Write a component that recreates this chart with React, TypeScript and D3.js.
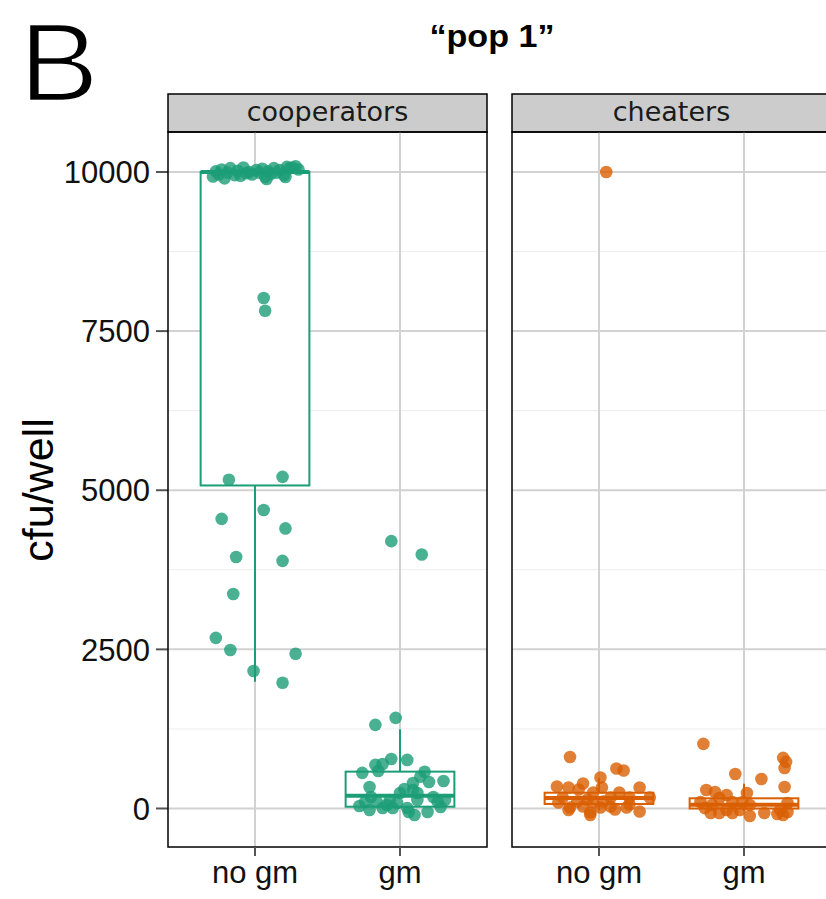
import React, { useEffect, useRef } from 'react'
import * as d3 from 'd3'

// facets and categories
const facets = ['cooperators', 'cheaters']
const categories = ['no gm', 'gm']
const facetColors = ['#1b9e77', '#d95f02']
const yTicks = [0, 2500, 5000, 7500, 10000]
const yMinor = [1250, 3750, 6250, 8750]

// jittered points: [category offset, cfu/well]
const coopNoGm = [
  [-0.29, 9930], [-0.27, 10010], [-0.25, 9960], [-0.23, 10040], [-0.21, 9900], [-0.19, 9990],
  [-0.17, 10060], [-0.14, 9950], [-0.12, 10020], [-0.10, 9940], [-0.08, 10070], [-0.06, 9980],
  [-0.04, 10000], [-0.02, 9960], [0.01, 10030], [0.03, 9990], [0.05, 10050], [0.07, 9920],
  [0.09, 10010], [0.11, 9970], [0.13, 10060], [0.15, 9990], [0.17, 10030], [0.20, 9950],
  [0.22, 10080], [0.24, 10060], [0.26, 10070], [0.28, 10090], [0.30, 10040], [0.08, 9890],
  [0.21, 9920],
  [0.06, 8020], [0.07, 7820], [-0.18, 5165], [0.19, 5210], [0.06, 4690], [-0.23, 4550],
  [0.21, 4400], [-0.13, 3950], [0.19, 3890], [-0.15, 3370], [-0.27, 2680], [-0.17, 2490],
  [0.28, 2430], [-0.01, 2160], [0.19, 1975]
]
const coopGm = [
  [-0.17, 1313], [-0.03, 1423], [-0.06, 4200], [0.15, 3990], [-0.06, 778], [0.05, 763],
  [-0.17, 685], [-0.12, 700], [-0.15, 590], [-0.26, 560], [0.17, 577], [0.14, 500],
  [0.30, 432], [0.20, 417], [0.09, 400], [0.03, 306], [0.00, 244], [-0.21, 338],
  [-0.20, 181], [-0.28, 40], [-0.21, -23], [-0.12, 8], [-0.05, 8], [0.05, 8],
  [0.10, -102], [0.06, -55], [0.19, -55], [0.26, 102], [0.31, 134], [0.23, 181],
  [-0.16, 102], [-0.07, 134], [-0.02, 86], [0.12, 134], [0.28, 24], [-0.24, 102],
  [-0.09, 55], [0.09, 290], [0.12, 244]
]
const cheatNoGm = [
  [0.05, 10000], [-0.20, 810], [0.12, 628], [0.17, 597], [0.01, 487], [-0.29, 346],
  [-0.11, 393], [0.28, 330], [-0.21, 330], [-0.14, 299], [0.14, 252], [0.02, 330],
  [-0.04, 252], [-0.25, 173], [-0.08, 142], [0.08, 173], [0.21, 173], [-0.28, 94],
  [-0.20, 16], [-0.11, 31], [-0.06, -64], [0.01, 16], [0.11, -16], [0.28, -48],
  [0.21, 63], [0.08, 31], [-0.04, 94], [0.35, 173], [0.19, 16], [0.03, 110],
  [-0.15, 110], [-0.06, -102], [-0.21, -24]
]
const cheatGm = [
  [-0.28, 1015], [0.27, 795], [0.29, 733], [0.28, 637], [-0.06, 542], [0.12, 463],
  [0.28, 338], [-0.26, 291], [-0.20, 260], [-0.12, 212], [0.02, 244], [-0.30, 102],
  [-0.17, 165], [-0.08, 102], [-0.22, 55], [-0.01, 102], [0.04, 55], [0.30, 86],
  [-0.23, -71], [-0.17, -71], [-0.08, -71], [0.04, -118], [0.14, -71], [0.23, -86],
  [0.27, -102], [0.30, -55], [-0.03, -24], [-0.12, -24], [-0.27, 8], [0.25, -24]
]
const points = [[coopNoGm, coopGm], [cheatNoGm, cheatGm]]

// box stats: [lower whisker, q1, median, q3, upper whisker]
const boxes = [
  [[1990, 5075, 10000, 10000, 10040], [0, 28, 201, 579, 1245]],
  [[-30, 71, 165, 248, 480], [-40, 0, 60, 160, 390]]
]

const App = () => {
  const ref = useRef(null)

  useEffect(() => {
    const W = 826, H = 899
    const panelW = 319, panelTop = 132, panelBottom = 847
    const stripTop = 94
    const panelX = [168, 512]

    const svg = d3.select(ref.current)
    svg.selectAll('*').remove()
    svg.attr('width', W).attr('height', H)

    const y = d3.scaleLinear().domain([-605, 10628]).range([panelBottom, panelTop])
    const x = d3.scalePoint().domain(categories).range([0, panelW]).padding(0.6)
    const unit = x.step()
    const font = 'Liberation Sans, Arial, Helvetica, sans-serif'

    svg.append('rect').attr('width', W).attr('height', H).attr('fill', 'white')

    // panel letter
    svg.append('text')
      .attr('x', 19).attr('y', 101)
      .attr('font-family', font).attr('font-size', 111)
      .attr('textLength', 80).attr('lengthAdjust', 'spacingAndGlyphs')
      .attr('fill', 'black').attr('stroke', 'white').attr('stroke-width', 2.5)
      .text('B')

    svg.append('text')
      .attr('x', 492).attr('y', 47)
      .attr('text-anchor', 'middle')
      .attr('font-family', font).attr('font-weight', 'bold').attr('font-size', 31)
      .attr('textLength', 125).attr('lengthAdjust', 'spacingAndGlyphs')
      .text('\u201Cpop 1\u201D')

    // y axis
    const yAxis = svg.append('g')
    yTicks.forEach(t => {
      yAxis.append('line')
        .attr('x1', 156).attr('x2', panelX[0])
        .attr('y1', y(t)).attr('y2', y(t))
        .attr('stroke', '#555').attr('stroke-width', 2)
      yAxis.append('text')
        .attr('x', 150).attr('y', y(t)).attr('dy', '0.36em')
        .attr('text-anchor', 'end')
        .attr('font-family', font).attr('font-size', 31).attr('fill', '#111')
        .text(t)
    })

    svg.append('text')
      .attr('transform', 'translate(53,490) rotate(-90)')
      .attr('text-anchor', 'middle')
      .attr('font-family', font).attr('font-size', 43)
      .text('cfu/well')

    facets.forEach((facet, fi) => {
      const g = svg.append('g').attr('transform', `translate(${panelX[fi]},0)`)
      const color = facetColors[fi]

      // strip
      g.append('rect')
        .attr('x', 0).attr('y', stripTop)
        .attr('width', panelW).attr('height', panelTop - stripTop)
        .attr('fill', '#cccccc').attr('stroke', 'black').attr('stroke-width', 1.5)
      g.append('text')
        .attr('x', panelW / 2).attr('y', 121)
        .attr('text-anchor', 'middle')
        .attr('font-family', 'DejaVu Sans, sans-serif').attr('font-size', 27)
        .attr('fill', '#1a1a1a')
        .text(facet)

      // grid
      yMinor.forEach(t => {
        g.append('line')
          .attr('x1', 0).attr('x2', panelW).attr('y1', y(t)).attr('y2', y(t))
          .attr('stroke', '#ededed').attr('stroke-width', 1)
      })
      yTicks.forEach(t => {
        g.append('line')
          .attr('x1', 0).attr('x2', panelW).attr('y1', y(t)).attr('y2', y(t))
          .attr('stroke', '#d2d2d2').attr('stroke-width', 2)
      })
      categories.forEach(c => {
        g.append('line')
          .attr('x1', x(c)).attr('x2', x(c)).attr('y1', panelTop).attr('y2', panelBottom)
          .attr('stroke', '#d2d2d2').attr('stroke-width', 2)
      })

      // boxplots
      categories.forEach((c, ci) => {
        const [lo, q1, med, q3, hi] = boxes[fi][ci]
        const cx = x(c)
        const half = unit * 0.375
        g.append('line')
          .attr('x1', cx).attr('x2', cx).attr('y1', y(lo)).attr('y2', y(q1))
          .attr('stroke', color).attr('stroke-width', 2)
        g.append('line')
          .attr('x1', cx).attr('x2', cx).attr('y1', y(q3)).attr('y2', y(hi))
          .attr('stroke', color).attr('stroke-width', 2)
        g.append('rect')
          .attr('x', cx - half).attr('y', y(q3))
          .attr('width', half * 2).attr('height', Math.max(0, y(q1) - y(q3)))
          .attr('fill', 'white').attr('stroke', color).attr('stroke-width', 2)
        g.append('line')
          .attr('x1', cx - half).attr('x2', cx + half).attr('y1', y(med)).attr('y2', y(med))
          .attr('stroke', color).attr('stroke-width', 4)
      })

      // jittered points
      categories.forEach((c, ci) => {
        g.selectAll(null)
          .data(points[fi][ci])
          .enter()
          .append('circle')
          .attr('cx', d => x(c) + d[0] * unit)
          .attr('cy', d => y(d[1]))
          .attr('r', 6.3)
          .attr('fill', color)
          .attr('fill-opacity', 0.8)
      })

      // panel border
      g.append('rect')
        .attr('x', 0).attr('y', panelTop)
        .attr('width', panelW).attr('height', panelBottom - panelTop)
        .attr('fill', 'none').attr('stroke', 'black').attr('stroke-width', 1.5)

      // x axis
      categories.forEach(c => {
        g.append('line')
          .attr('x1', x(c)).attr('x2', x(c)).attr('y1', panelBottom).attr('y2', panelBottom + 9)
          .attr('stroke', '#555').attr('stroke-width', 2)
        g.append('text')
          .attr('x', x(c)).attr('y', 883)
          .attr('text-anchor', 'middle')
          .attr('font-family', font).attr('font-size', 31).attr('fill', '#111')
          .text(c)
      })
    })
  }, [])

  return <svg ref={ref} style={{ position: 'absolute', left: 0, top: 0, display: 'block' }} />
}

export default App
